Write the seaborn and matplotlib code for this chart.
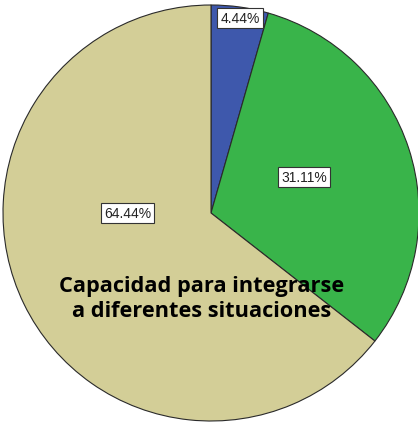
import numpy as np
import matplotlib
matplotlib.use("Agg")
import matplotlib.pyplot as plt
import seaborn as sns

# ----------------------------
# DATA
# ----------------------------
categories = ["Poco", "Medio", "Alto"]
percent = [4.44, 31.11, 64.44]
labels = ["4.44%", "31.11%", "64.44%"]
colors = ["#3E58AC", "#39B44A", "#D3CE97"]
title = "Capacidad para integrarse\na diferentes situaciones"

# label placement (angle in degrees, distance as fraction of radius)
label_pos = [(81.5, 0.95), (21, 0.48), (180, 0.40)]

sns.set_theme(style="white")
plt.rcParams['font.family'] = ['Liberation Sans', 'DejaVu Sans']

fig = plt.figure(figsize=(4.18, 4.35), dpi=100)
ax = fig.add_axes([0, 0, 1, 1])

cx, cy, r = 211, 221, 208
ax.pie(percent, colors=colors, startangle=90, counterclock=False,
       center=(cx, cy), radius=r, frame=True,
       wedgeprops=dict(edgecolor="#2a2a2a", linewidth=0.8))
ax.set_xlim(0, 418)
ax.set_ylim(0, 435)
ax.set_aspect('equal')
ax.axis('off')

for lab, (ang, d) in zip(labels, label_pos):
    a = np.deg2rad(ang)
    ax.text(cx + d * r * np.cos(a), cy + d * r * np.sin(a), lab,
            ha='center', va='center', fontsize=10, color='#222222',
            bbox=dict(boxstyle='square,pad=0.22', fc='white', ec='#333333', lw=0.8))

ax.text(202, 136, title, ha='center', va='center', fontsize=15.7,
        fontweight='bold', family=['Open Sans', 'DejaVu Sans'],
        color='black', linespacing=1.3)

fig.savefig("out.png", dpi=100)
